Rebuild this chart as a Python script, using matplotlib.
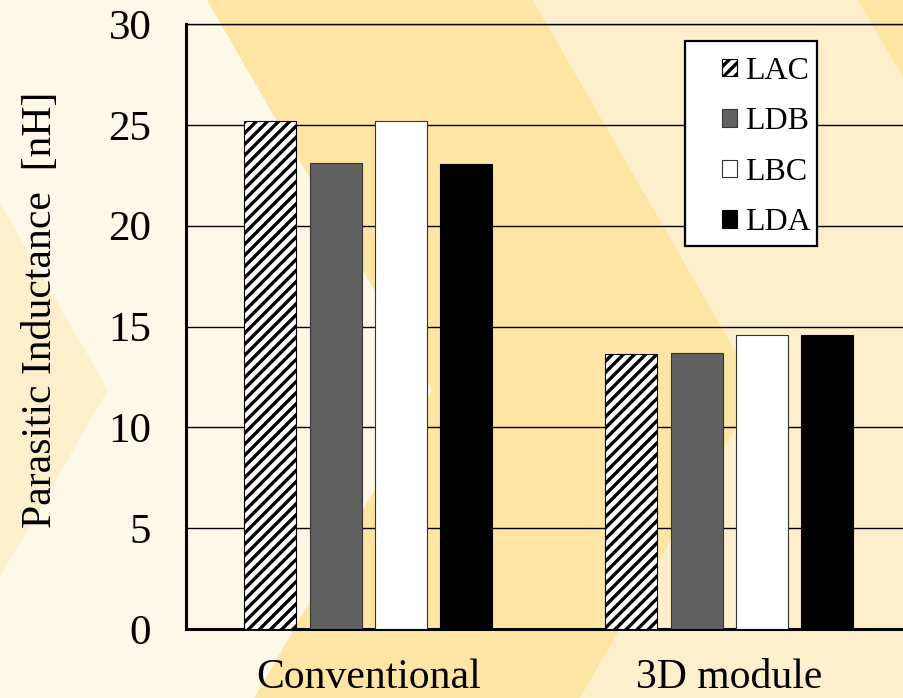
"""Parasitic inductance: conventional vs 3D module."""

import matplotlib
matplotlib.use("Agg")
import matplotlib.pyplot as plt
import numpy as np
from matplotlib.patches import Polygon, Rectangle

plt.rcParams["font.family"] = ["Liberation Serif", "DejaVu Serif"]
plt.rcParams["hatch.linewidth"] = 2.4

categories = ["Conventional", "3D module"]
series = ["LAC", "LDB", "LBC", "LDA"]
lac = [25.2, 13.65]
ldb = [23.1, 13.7]
lbc = [25.2, 14.6]
lda = [23.05, 14.6]
values = [lac, ldb, lbc, lda]

W, H = 904, 698
fig = plt.figure(figsize=(W / 100, H / 100), dpi=100)
fig.patch.set_facecolor("#fef8e8")

# chevron background bands (pixel space)
bg = fig.add_axes([0, 0, 1, 1], zorder=-5)
bg.set_xlim(0, W)
bg.set_ylim(H, 0)
bg.axis("off")
apex_y, slope = 390, 0.577
apexes = [-400, 108, 432, 758, 1083, 1600]
band_colors = ["#feefcc", "#fef8e8", "#fee5a4", "#feefcc", "#fee5a4"]


def edge(a, y):
    return a - slope * abs(y - apex_y)


for a, b, c in zip(apexes[:-1], apexes[1:], band_colors):
    pts = [(edge(a, 0), 0), (a, apex_y), (edge(a, H), H),
           (edge(b, H), H), (b, apex_y), (edge(b, 0), 0)]
    bg.add_patch(Polygon(pts, closed=True, facecolor=c, edgecolor="none"))

ax = fig.add_axes([186 / W, (H - 629) / H, 722 / W, 605 / H])
ax.patch.set_alpha(0)

x = np.arange(len(categories))
step, width = 0.181, 0.144
styles = [
    dict(facecolor="white", hatch="///", edgecolor="black"),
    dict(facecolor="#616161", edgecolor="#333333"),
    dict(facecolor="white", edgecolor="#333333"),
    dict(facecolor="black", edgecolor="black"),
]
for i, (name, vals, st) in enumerate(zip(series, values, styles)):
    ax.bar(x + (i - 1.5) * step, vals, width, label=name, linewidth=0.8, zorder=3, **st)

ax.set_xlim(-0.505, 1.495)
ax.set_ylim(0, 30)
ax.set_yticks(np.arange(0, 31, 5))
ax.set_xticks(x)
ax.set_xticklabels(categories)
ax.yaxis.grid(True, color="black", linewidth=1.0)
ax.set_axisbelow(True)
ax.tick_params(axis="y", length=0, pad=25, labelsize=31)
ax.tick_params(axis="x", length=0, pad=21, labelsize=30)
ax.spines["right"].set_visible(False)
ax.spines["top"].set_linewidth(1.0)
ax.spines["left"].set_linewidth(2.2)
ax.spines["bottom"].set_linewidth(2.2)

ax.set_ylabel("Parasitic Inductance  [nH]", fontsize=30)
ax.yaxis.set_label_coords(-0.174, 0.527)

# legend frame drawn separately: entries sit right of centre in the original
ax.add_patch(Rectangle(((685 - 186) / 722, (629 - 246) / 605), 132 / 722, 205 / 605,
                       transform=ax.transAxes, facecolor="white", edgecolor="black",
                       linewidth=1.6, zorder=4, clip_on=False))
leg = ax.legend(loc="upper left", bbox_to_anchor=((722 - 186) / 722, (629 - 57) / 605),
                fontsize=23, frameon=False, handlelength=0.47, handleheight=0.47,
                handletextpad=0.25, labelspacing=0.67, borderpad=0, borderaxespad=0)
leg.set_zorder(5)

fig.savefig("out.png", dpi=100)
